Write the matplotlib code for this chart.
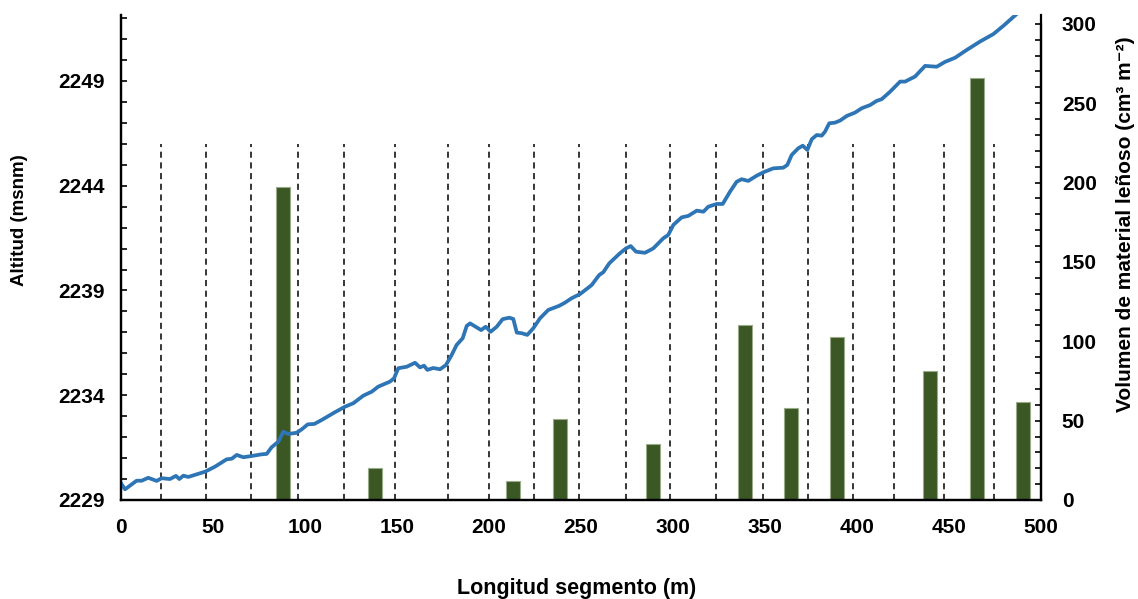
import matplotlib.pyplot as plt
import numpy as np
from matplotlib.ticker import MultipleLocator

plt.rcParams['font.family'] = ['Liberation Sans', 'DejaVu Sans']
plt.rcParams['font.weight'] = 'bold'

# Longitudinal profile of the segment (distance in m, altitude in msnm)
dist = [0, 2.2, 8.5, 11.3, 14.8, 19.4, 22.1, 26.6, 29.9, 31.7, 33.9, 36.6,
        45.7, 51.1, 57.4, 60.2, 62.9, 66.5, 71.0, 76.5, 79.2, 81.9, 85.5,
        88.2, 90.9, 95.5, 98.2, 101.5, 105.1, 109.1, 115.9, 121.7, 126.3,
        131.7, 136.3, 139.8, 146.2, 148.4, 150.7, 155.3, 159.8, 162.5,
        164.7, 166.5, 169.7, 173.4, 176.6, 179.7, 182.4, 185.7, 187.9,
        189.7, 195.7, 198.2, 200.9, 204.2, 207.4, 211.0, 213.2, 215.1,
        217.8, 220.8, 224.1, 227.7, 232.2, 238.2, 241.3, 244.9, 249.5,
        255.8, 259.9, 262.1, 265.4, 271.2, 274.5, 277.0, 279.9, 284.8,
        289.3, 294.7, 297.4, 300.2, 304.7, 308.3, 312.9, 316.5, 319.2,
        323.8, 327.0, 331.0, 334.6, 337.3, 340.9, 345.5, 349.1, 354.5,
        359.9, 362.1, 364.5, 368.1, 370.5, 373.0, 375.4, 378.1, 380.8,
        382.6, 384.9, 388.0, 390.8, 394.4, 398.9, 402.6, 407.1, 410.7,
        413.4, 418.0, 423.4, 426.1, 431.5, 437.0, 443.3, 447.8, 453.3,
        459.6, 466.8, 474.1, 479.5, 486.8]
altitud = [2229.80, 2229.51, 2229.92, 2229.92, 2230.06, 2229.91, 2230.04,
           2230.00, 2230.15, 2230.00, 2230.16, 2230.10, 2230.35, 2230.59,
           2230.94, 2230.97, 2231.15, 2231.04, 2231.10, 2231.18, 2231.20,
           2231.52, 2231.78, 2232.26, 2232.15, 2232.21, 2232.37, 2232.61,
           2232.63, 2232.82, 2233.17, 2233.45, 2233.62, 2233.98, 2234.17,
           2234.41, 2234.65, 2234.81, 2235.29, 2235.36, 2235.55, 2235.33,
           2235.41, 2235.21, 2235.30, 2235.24, 2235.44, 2235.92, 2236.40,
           2236.72, 2237.31, 2237.43, 2237.11, 2237.27, 2237.03, 2237.27,
           2237.63, 2237.70, 2237.64, 2236.99, 2236.96, 2236.88, 2237.20,
           2237.67, 2238.07, 2238.27, 2238.42, 2238.63, 2238.83, 2239.26,
           2239.74, 2239.87, 2240.30, 2240.78, 2241.01, 2241.12, 2240.85,
           2240.80, 2241.01, 2241.49, 2241.65, 2242.13, 2242.49, 2242.56,
           2242.81, 2242.76, 2243.00, 2243.13, 2243.13, 2243.72, 2244.19,
           2244.31, 2244.23, 2244.48, 2244.64, 2244.83, 2244.86, 2244.99,
           2245.47, 2245.79, 2245.91, 2245.71, 2246.22, 2246.42, 2246.39,
           2246.58, 2246.98, 2247.01, 2247.11, 2247.33, 2247.49, 2247.70,
           2247.85, 2248.05, 2248.13, 2248.49, 2248.97, 2248.97, 2249.21,
           2249.72, 2249.68, 2249.91, 2250.11, 2250.48, 2250.88, 2251.24,
           2251.63, 2252.20]

# Woody debris volume per sub-segment
pos_barras = [88, 138, 213, 238.5, 289, 339, 364, 389, 439.5, 465, 490]
volumen = [197, 20, 12, 51, 35, 110, 58, 103, 81, 266, 62]

# Sub-segment boundaries (m)
limites = [21.7, 46.2, 70.5, 96.2, 121.2, 148.9, 177.9, 199.8, 224.5, 249.1,
           274.5, 298.4, 323.2, 348.9, 373.4, 397.7, 420.1, 447.1, 474.3]

fig = plt.figure(figsize=(11.38, 5.99), dpi=100)
ax = fig.add_axes([0.1063, 0.1653, 0.8085, 0.8097])
ax2 = ax.twinx()
ax.set_zorder(ax2.get_zorder() + 1)
ax.patch.set_visible(False)

ax2.bar(pos_barras, volumen, width=7.6, color='#3a5724',
        edgecolor='#9aab8a', linewidth=0.8)
ax2.vlines(limites, 0, 224, colors='black', linewidth=1.1,
           linestyles=(0, (4, 3)))

ax.plot(dist, altitud, color='#2e75b6', linewidth=2.7)

ax.set_xlim(0, 500)
ax.set_ylim(2229, 2252.15)
ax2.set_ylim(0, 305.6)

ax.xaxis.set_major_locator(MultipleLocator(50))
ax.set_yticks(np.arange(2229, 2250, 5))
ax.yaxis.set_minor_locator(MultipleLocator(1))
ax2.yaxis.set_major_locator(MultipleLocator(50))
ax2.yaxis.set_minor_locator(MultipleLocator(10))
ax2.spines['right'].set_bounds(0, 300)

for a in (ax, ax2):
    a.spines['top'].set_visible(False)
    for s in a.spines.values():
        s.set_linewidth(1.6)

ax.tick_params(axis='x', length=0, pad=13, labelsize=15)
ax.tick_params(axis='y', which='both', direction='in', length=4, width=1.2,
               pad=12, labelsize=15)
ax2.tick_params(axis='y', which='both', direction='in', length=4, width=1.2,
                pad=15, labelsize=15)
for lab in ax.get_xticklabels() + ax.get_yticklabels() + ax2.get_yticklabels():
    lab.set_fontweight('bold')

ax.set_xlabel('Longitud segmento (m)', fontsize=15.5, fontweight='bold')
ax.xaxis.label.set_verticalalignment('center')
ax.xaxis.set_label_coords(0.4957, -0.1835)

ax.set_ylabel('Altitud (msnm)', fontsize=13.5, fontweight='bold',
              va='center')
ax.yaxis.set_label_coords(-0.1098, 0.577)

ax2.set_ylabel('Volumen de material leñoso (cm³ m⁻²)', fontsize=15,
               fontweight='bold', va='center', rotation=90)
ax2.yaxis.set_label_coords(1.0913, 0.569)

fig.savefig('out.png', dpi=100)
